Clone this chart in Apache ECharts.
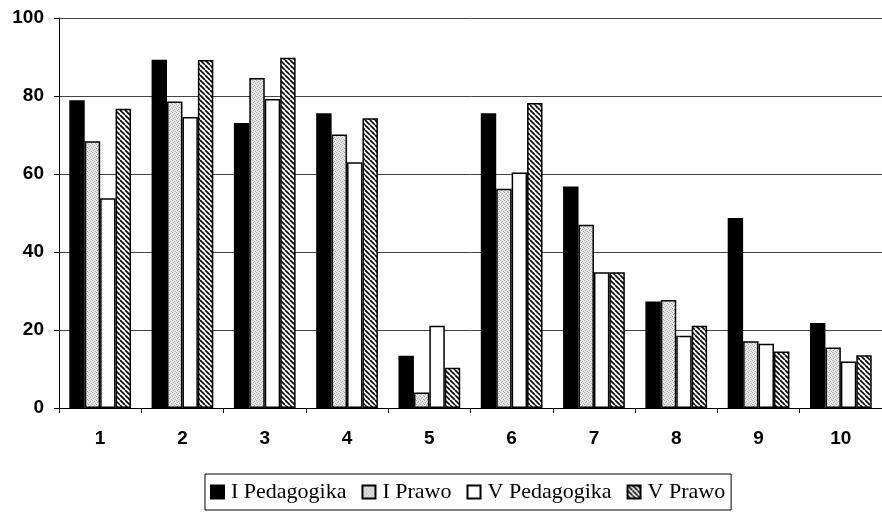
<!DOCTYPE html>
<html>
<head>
<meta charset="utf-8">
<script src="https://cdn.jsdelivr.net/npm/echarts@6/dist/echarts.min.js"></script>
<style>
  html, body { margin: 0; padding: 0; background: #fff; }
  #chart { width: 882px; height: 517px; }
</style>
</head>
<body>
<div id="chart"></div>
<script>
// Categories (question numbers) and percentages per group
const categories = ['1', '2', '3', '4', '5', '6', '7', '8', '9', '10'];
const seriesNames = ['I Pedagogika', 'I Prawo', 'V Pedagogika', 'V Prawo'];
const iPedagogika = [78.9, 89.3, 73.1, 75.6, 13.4, 75.6, 56.8, 27.3, 48.7, 21.8];
const iPrawo      = [68.4, 78.6, 84.6, 70.1, 4.0, 56.2, 47.0, 27.7, 17.1, 15.5];
const vPedagogika = [53.8, 74.6, 79.2, 63.0, 21.1, 60.4, 34.8, 18.5, 16.5, 11.9];
const vPrawo      = [76.7, 89.2, 89.8, 74.3, 10.3, 78.2, 34.8, 21.1, 14.5, 13.5];
const yTicks = { min: 0, max: 100, interval: 20 };

// Fill patterns: light stipple and diagonal hatching
function stipple() {
  const c = document.createElement('canvas');
  c.width = 4; c.height = 4;
  const g = c.getContext('2d');
  g.fillStyle = '#e6e6e6';
  g.fillRect(0, 0, 4, 4);
  g.fillStyle = '#a8a8a8';
  [[0, 0], [2, 1], [1, 2], [3, 3]].forEach(p => g.fillRect(p[0], p[1], 1, 1));
  return c;
}
function hatch() {
  const s = 5;
  const c = document.createElement('canvas');
  c.width = s; c.height = s;
  const g = c.getContext('2d');
  g.fillStyle = '#fff';
  g.fillRect(0, 0, s, s);
  g.strokeStyle = '#000';
  g.lineWidth = 1.6;
  g.beginPath();
  [-s, 0, s].forEach(k => { g.moveTo(k, 0); g.lineTo(k + s, s); });
  g.stroke();
  return c;
}

const fills = [
  '#000000',
  { image: stipple(), repeat: 'repeat' },
  '#ffffff',
  { image: hatch(), repeat: 'repeat' }
];
const values = [iPedagogika, iPrawo, vPedagogika, vPrawo];

const chart = echarts.init(document.getElementById('chart'), null, { renderer: 'canvas' });
chart.setOption({
  animation: false,
  backgroundColor: '#fff',
  grid: { left: 59, right: -5, top: 18, bottom: 109 },
  legend: {
    left: 205,
    top: 474,
    data: seriesNames,
    icon: 'rect',
    itemWidth: 13,
    itemHeight: 13,
    itemGap: 15,
    padding: [7, 6, 7, 5],
    borderColor: '#000',
    borderWidth: 1,
    textStyle: { fontFamily: 'Liberation Serif', fontSize: 22, color: '#000', padding: [0, 0, 0, 2] }
  },
  xAxis: {
    type: 'category',
    data: categories,
    axisLine: { lineStyle: { color: '#000', width: 1 } },
    axisTick: { show: true, length: 5, lineStyle: { color: '#000' } },
    axisLabel: { margin: 21, fontFamily: 'Liberation Sans', fontWeight: 'bold', fontSize: 19, color: '#000' }
  },
  yAxis: {
    type: 'value',
    min: yTicks.min,
    max: yTicks.max,
    interval: yTicks.interval,
    axisLine: { show: true, lineStyle: { color: '#000', width: 1 } },
    axisTick: { show: true, length: 5, lineStyle: { color: '#000' } },
    axisLabel: { margin: 15, fontFamily: 'Liberation Sans', fontWeight: 'bold', fontSize: 19, color: '#000' },
    splitLine: { show: true, lineStyle: { color: '#444', width: 1 } }
  },
  series: seriesNames.map((name, i) => ({
    name: name,
    type: 'bar',
    data: values[i],
    barGap: '0%',
    barCategoryGap: '25%',
    itemStyle: { color: fills[i], borderColor: '#000', borderWidth: 1.5 }
  }))
});
</script>
</body>
</html>
